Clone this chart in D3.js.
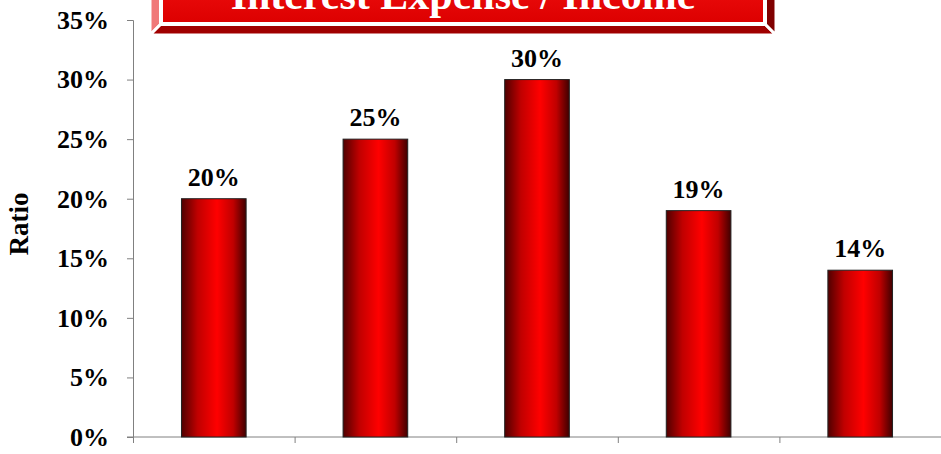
<!DOCTYPE html>
<html>
<head>
<meta charset="utf-8">
<script src="https://cdn.jsdelivr.net/npm/d3@7"></script>
<style>
  body { margin: 0; background: #fff; }
  svg { display: block; }
</style>
</head>
<body>
<svg id="chart"></svg>
<script>
// data (category labels are cut off below the frame)
const categories = ["1", "2", "3", "4", "5"];
const ratios = [0.20, 0.25, 0.30, 0.19, 0.14];
const yTicks = [0, 0.05, 0.10, 0.15, 0.20, 0.25, 0.30, 0.35];
const title = "Interest Expense / Income";
const yLabel = "Ratio";

const W = 941, H = 454;
const margin = { top: 20, right: 0, bottom: 17, left: 133 };
const font = "'Liberation Serif', 'Times New Roman', serif";

const svg = d3.select("#chart").attr("width", W).attr("height", H);

// bar gradient: dark edges, bright red just right of centre
const defs = svg.append("defs");
const barGrad = defs.append("linearGradient").attr("id", "barGrad")
    .attr("x1", "0%").attr("x2", "100%").attr("y1", "0%").attr("y2", "0%");
barGrad.append("stop").attr("offset", "0%").attr("stop-color", "#500000");
barGrad.append("stop").attr("offset", "25%").attr("stop-color", "#c00000");
barGrad.append("stop").attr("offset", "55%").attr("stop-color", "#ff0000");
barGrad.append("stop").attr("offset", "80%").attr("stop-color", "#c00000");
barGrad.append("stop").attr("offset", "100%").attr("stop-color", "#400000");

const faceGrad = defs.append("linearGradient").attr("id", "faceGrad")
    .attr("x1", "0%").attr("x2", "0%").attr("y1", "0%").attr("y2", "100%");
faceGrad.append("stop").attr("offset", "0%").attr("stop-color", "#ff1a1a");
faceGrad.append("stop").attr("offset", "100%").attr("stop-color", "#dc0000");

// scales
const y = d3.scaleLinear()
    .domain([0, 0.35])
    .range([H - margin.bottom, margin.top]);

const x = d3.scaleBand()
    .domain(categories)
    .range([margin.left, W - margin.right])
    .paddingInner(0.6)
    .paddingOuter(0.3);

// category boundaries for the x tick marks
const xEdges = d3.scaleLinear()
    .domain([0, categories.length])
    .range([margin.left, W - margin.right]);

// Y axis
const yAxis = svg.append("g")
    .attr("transform", `translate(${margin.left},0)`)
    .call(d3.axisLeft(y).tickValues(yTicks).tickSize(6).tickPadding(18)
        .tickFormat(d3.format(".0%")));
yAxis.select(".domain").attr("stroke", "#808080");
yAxis.selectAll(".tick line").attr("stroke", "#808080");
yAxis.selectAll("text")
    .attr("font-family", font)
    .attr("font-weight", "bold")
    .attr("font-size", 26)
    .attr("fill", "#000");

// X axis (only tick marks, labels fall outside the picture)
const xAxis = svg.append("g")
    .attr("transform", `translate(0,${y(0)})`)
    .call(d3.axisBottom(xEdges).ticks(categories.length).tickSize(6).tickFormat(""));
xAxis.select(".domain").attr("stroke", "#808080").attr("d", `M${margin.left - 6},0H${W}`);
xAxis.selectAll(".tick line").attr("stroke", "#808080");

// Bars
svg.selectAll(".bar")
    .data(ratios)
    .enter()
    .append("rect")
    .attr("class", "bar")
    .attr("x", (d, i) => x(categories[i]))
    .attr("y", d => y(d))
    .attr("width", x.bandwidth())
    .attr("height", d => y(0) - y(d))
    .attr("fill", "url(#barGrad)")
    .attr("stroke", "#222")
    .attr("stroke-width", 1);

// Value labels
svg.selectAll(".val")
    .data(ratios)
    .enter()
    .append("text")
    .attr("class", "val")
    .attr("x", (d, i) => x(categories[i]) + x.bandwidth() / 2)
    .attr("y", d => y(d) - 13)
    .attr("text-anchor", "middle")
    .attr("font-family", font)
    .attr("font-weight", "bold")
    .attr("font-size", 26)
    .text(d => d3.format(".0%")(d));

// Y axis title
svg.append("text")
    .attr("transform", `translate(28,224) rotate(-90)`)
    .attr("text-anchor", "middle")
    .attr("font-family", font)
    .attr("font-weight", "bold")
    .attr("font-size", 27)
    .text(yLabel);

// Title box: bevelled red banner, cut off by the top edge as in the original
const outer = { x0: 150, x1: 776, y0: -60, y1: 35 };
const inner = { x0: 161, x1: 765, y0: -60, y1: 24 };
const banner = svg.append("g");
const poly = pts => pts.map(p => p.join(",")).join(" ");

banner.append("polygon")
    .attr("points", poly([[outer.x0, outer.y0], [inner.x0, inner.y0], [inner.x0, inner.y1], [outer.x0, outer.y1]]))
    .attr("fill", "#f07878");
banner.append("polygon")
    .attr("points", poly([[outer.x0, outer.y1], [inner.x0, inner.y1], [inner.x1, inner.y1], [outer.x1, outer.y1]]))
    .attr("fill", "#a00000");
banner.append("polygon")
    .attr("points", poly([[outer.x1, outer.y0], [inner.x1, inner.y0], [inner.x1, inner.y1], [outer.x1, outer.y1]]))
    .attr("fill", "#800000");
banner.selectAll("polygon").attr("stroke", "#fff").attr("stroke-width", 3);

banner.append("rect")
    .attr("x", inner.x0)
    .attr("y", inner.y0)
    .attr("width", inner.x1 - inner.x0)
    .attr("height", inner.y1 - inner.y0)
    .attr("fill", "url(#faceGrad)")
    .attr("stroke", "#fff")
    .attr("stroke-width", 4);

banner.append("text")
    .attr("x", (inner.x0 + inner.x1) / 2)
    .attr("y", 9)
    .attr("text-anchor", "middle")
    .attr("font-family", font)
    .attr("font-weight", "bold")
    .attr("font-size", 42)
    .attr("fill", "#fff")
    .text(title);
</script>
</body>
</html>
